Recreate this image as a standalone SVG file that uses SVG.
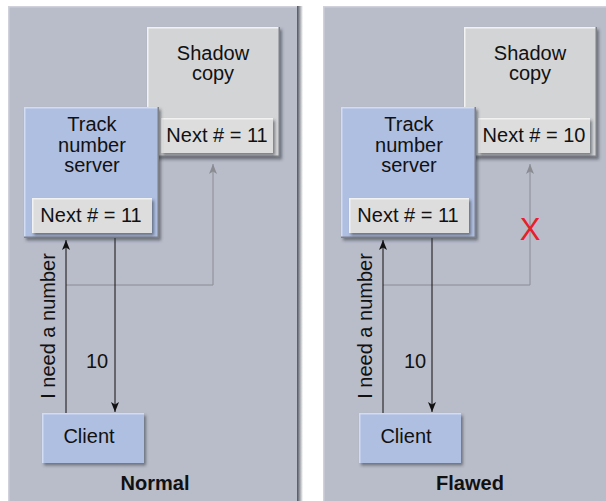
<svg xmlns="http://www.w3.org/2000/svg" width="606" height="501" viewBox="0 0 606 501">
<style>
text{font-family:"Liberation Sans",Arial,Helvetica,sans-serif;font-size:20px;fill:#111;text-anchor:middle}
.b{font-weight:bold}
.panel{fill:#b9bdc9}
.pedge{fill:none;stroke:#cfd2da;stroke-width:1.5}
.gray{fill:#d3d4d6}
.blue{fill:#afbfe2}
.nb{fill:#dddddd}
.hl{fill:none;stroke:#f2f2f2;stroke-width:1.5}
.hlb{fill:none;stroke:#d2dcf2;stroke-width:1.5}
.dk{fill:none;stroke:#7e8088;stroke-width:1.5}
.ln{fill:none;stroke:#111;stroke-width:1}
.lg{fill:none;stroke:#8a8c92;stroke-width:1}
.x{fill:#e8202a;font-size:31px}
</style>
<defs>
<linearGradient id="rs" x1="0" x2="1" y1="0" y2="0">
<stop offset="0" stop-color="#4e525c"/>
<stop offset="0.3" stop-color="#80848c"/>
<stop offset="1" stop-color="#ffffff"/>
</linearGradient>
<filter id="sh" x="-10%" y="-10%" width="130%" height="130%">
<feDropShadow dx="2" dy="2.5" stdDeviation="1.5" flood-color="#30343c" flood-opacity="0.55"/>
</filter>
<marker id="ah" viewBox="0 0 10 8" refX="10" refY="4" markerWidth="10" markerHeight="8" orient="auto" markerUnits="userSpaceOnUse">
<path d="M0,0 L10,4 L0,8 L2.5,4 z" fill="#111"/>
</marker>
<marker id="ahg" viewBox="0 0 10 8" refX="10" refY="4" markerWidth="10" markerHeight="8" orient="auto" markerUnits="userSpaceOnUse">
<path d="M0,0 L10,4 L0,8 L2.5,4 z" fill="#8a8c92"/>
</marker>
</defs>
<rect width="606" height="501" fill="#ffffff"/>

<g id="panel-normal">
<rect class="panel" x="8" y="6" width="289" height="495"/>
<path class="pedge" d="M8.75,501 V6.75 H297"/>
<rect x="297" y="6" width="6" height="495" fill="url(#rs)"/>
<text class="b" x="155" y="490">Normal</text>
</g>
<g id="panel-flawed">
<rect class="panel" x="323" y="6" width="283" height="495"/>
<path class="pedge" d="M323.75,501 V6.75 H606"/>
<text class="b" x="470" y="490">Flawed</text>
</g>

<g id="connectors">
<path class="lg" d="M66,285 H213 V164" marker-end="url(#ahg)"/>
<path class="ln" d="M66,413 V240" marker-end="url(#ah)"/>
<path class="ln" d="M115,238 V412" marker-end="url(#ah)"/>
<text x="97" y="368">10</text>
<text transform="translate(55,326) rotate(-90)">I need a number</text>
<path class="lg" d="M383,285 H530 V164" marker-end="url(#ahg)"/>
<path class="ln" d="M383,413 V240" marker-end="url(#ah)"/>
<path class="ln" d="M432,238 V412" marker-end="url(#ah)"/>
<text x="415" y="368">10</text>
<text transform="translate(372,326) rotate(-90)">I need a number</text>
<text class="x" x="530" y="240">X</text>
</g>

<g id="shadow-normal">
<rect class="gray" x="147" y="27" width="133" height="130" filter="url(#sh)"/>
<path class="hl" d="M147.75,157 V27.75 H280"/>
<path class="dk" d="M147,156.25 H279.25 V27"/>
<text x="213" y="60">Shadow</text>
<text x="213" y="80">copy</text>
<rect class="nb" x="161" y="118" width="112" height="35" filter="url(#sh)"/>
<path class="hl" d="M161.75,153 V118.75 H273"/>
<text x="217" y="142">Next # = 11</text>
</g>
<g id="server-normal">
<rect class="blue" x="24" y="107" width="135" height="131" filter="url(#sh)"/>
<path class="hlb" d="M24.75,238 V107.75 H159"/>
<path class="dk" d="M24,237.25 H158.25 V107"/>
<text x="92" y="131">Track</text>
<text x="92" y="152">number</text>
<text x="92" y="172">server</text>
<rect class="nb" x="32" y="198" width="120" height="35" filter="url(#sh)"/>
<path class="hl" d="M32.75,233 V198.75 H152"/>
<text x="91" y="222">Next # = 11</text>
</g>
<g id="client-normal">
<rect class="blue" x="42" y="413" width="102" height="50" filter="url(#sh)"/>
<path class="hlb" d="M42.75,463 V413.75 H144"/>
<text x="89" y="443">Client</text>
</g>

<g id="shadow-flawed">
<rect class="gray" x="464" y="27" width="133" height="130" filter="url(#sh)"/>
<path class="hl" d="M464.75,157 V27.75 H597"/>
<path class="dk" d="M464,156.25 H596.25 V27"/>
<text x="530" y="60">Shadow</text>
<text x="530" y="80">copy</text>
<rect class="nb" x="478" y="118" width="112" height="35" filter="url(#sh)"/>
<path class="hl" d="M478.75,153 V118.75 H590"/>
<text x="534" y="142">Next # = 10</text>
</g>
<g id="server-flawed">
<rect class="blue" x="341" y="107" width="135" height="131" filter="url(#sh)"/>
<path class="hlb" d="M341.75,238 V107.75 H476"/>
<path class="dk" d="M341,237.25 H475.25 V107"/>
<text x="409" y="131">Track</text>
<text x="409" y="152">number</text>
<text x="409" y="172">server</text>
<rect class="nb" x="349" y="198" width="120" height="35" filter="url(#sh)"/>
<path class="hl" d="M349.75,233 V198.75 H469"/>
<text x="408" y="222">Next # = 11</text>
</g>
<g id="client-flawed">
<rect class="blue" x="359" y="413" width="102" height="50" filter="url(#sh)"/>
<path class="hlb" d="M359.75,463 V413.75 H461"/>
<text x="406" y="443">Client</text>
</g>
</svg>
